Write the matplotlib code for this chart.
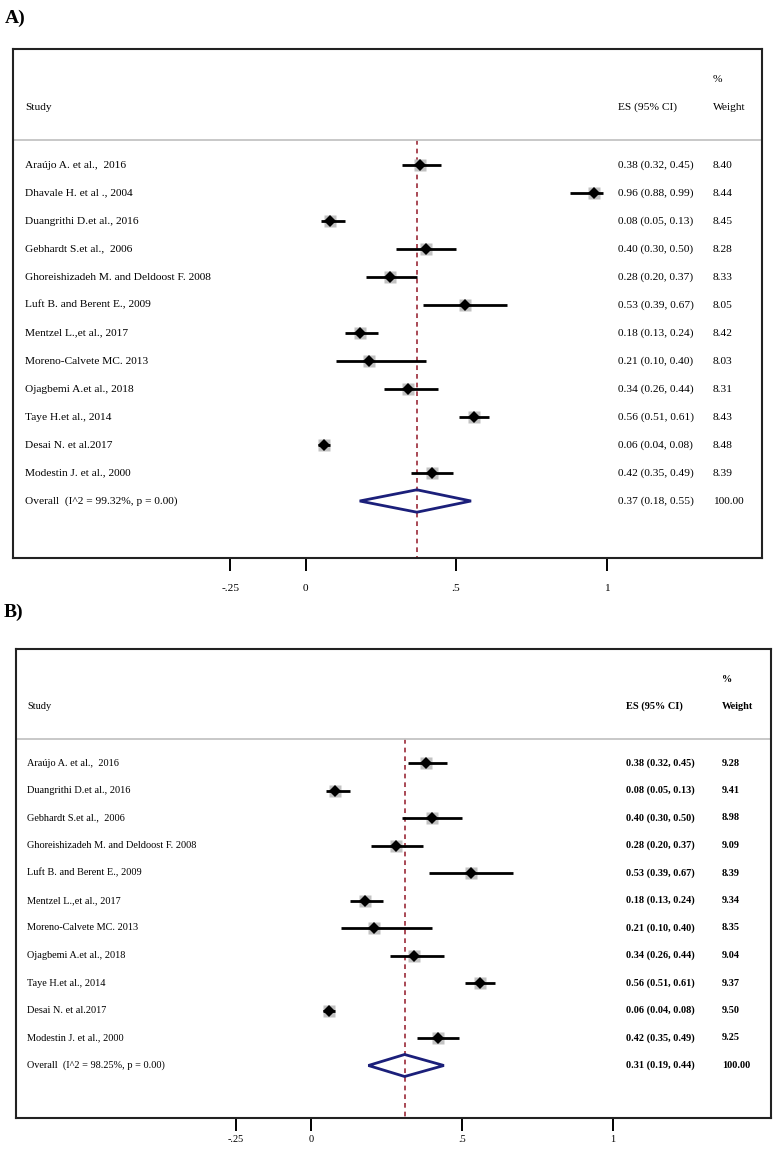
import matplotlib
matplotlib.use('Agg')
import matplotlib.pyplot as plt
from matplotlib.patches import Polygon

# ---- data: panel A ----
studies_a = ["Araújo A. et al.,  2016", "Dhavale H. et al ., 2004", "Duangrithi D.et al., 2016",
             "Gebhardt S.et al.,  2006", "Ghoreishizadeh M. and Deldoost F. 2008",
             "Luft B. and Berent E., 2009", "Mentzel L.,et al., 2017", "Moreno-Calvete MC. 2013",
             "Ojagbemi A.et al., 2018", "Taye H.et al., 2014", "Desai N. et al.2017",
             "Modestin J. et al., 2000"]
es_a = [0.38, 0.96, 0.08, 0.40, 0.28, 0.53, 0.18, 0.21, 0.34, 0.56, 0.06, 0.42]
lo_a = [0.32, 0.88, 0.05, 0.30, 0.20, 0.39, 0.13, 0.10, 0.26, 0.51, 0.04, 0.35]
hi_a = [0.45, 0.99, 0.13, 0.50, 0.37, 0.67, 0.24, 0.40, 0.44, 0.61, 0.08, 0.49]
wt_a = [8.40, 8.44, 8.45, 8.28, 8.33, 8.05, 8.42, 8.03, 8.31, 8.43, 8.48, 8.39]
overall_a = (0.37, 0.18, 0.55)
i2_a = "99.32%"

# ---- data: panel B (Dhavale excluded) ----
studies_b = ["Araújo A. et al.,  2016", "Duangrithi D.et al., 2016", "Gebhardt S.et al.,  2006",
             "Ghoreishizadeh M. and Deldoost F. 2008", "Luft B. and Berent E., 2009",
             "Mentzel L.,et al., 2017", "Moreno-Calvete MC. 2013", "Ojagbemi A.et al., 2018",
             "Taye H.et al., 2014", "Desai N. et al.2017", "Modestin J. et al., 2000"]
es_b = [0.38, 0.08, 0.40, 0.28, 0.53, 0.18, 0.21, 0.34, 0.56, 0.06, 0.42]
lo_b = [0.32, 0.05, 0.30, 0.20, 0.39, 0.13, 0.10, 0.26, 0.51, 0.04, 0.35]
hi_b = [0.45, 0.13, 0.50, 0.37, 0.67, 0.24, 0.40, 0.44, 0.61, 0.08, 0.49]
wt_b = [9.28, 9.41, 8.98, 9.09, 8.39, 9.34, 8.35, 9.04, 9.37, 9.50, 9.25]
overall_b = (0.31, 0.19, 0.44)
i2_b = "98.25%"

tick_vals = [-0.25, 0, 0.5, 1]
tick_labels = ["-.25", "0", ".5", "1"]

FONT = "Liberation Serif"
W, H = 775, 1149
fig = plt.figure(figsize=(W / 100, H / 100), dpi=100)


def draw_panel(ax, studies, es, lo, hi, wt, overall, i2, xlim, ylim, cols, fs, bold_vals, pad, sq):
    n = len(studies)
    ax.set_xlim(*xlim)
    ax.set_ylim(*ylim)  # inverted: top row first
    head_y = -0.88
    # reference line through overall estimate
    ax.vlines(overall[0], head_y, ylim[0], colors="#a33a48", linestyles=(0, (2.6, 2.2)), lw=1.3, zorder=1)
    # header separator
    ax.axhline(head_y, color="#c4c4c4", lw=1.3, zorder=1)
    for i in range(n):
        ax.plot(es[i], i, marker="s", ms=sq * (wt[i] / 8.4) ** 0.5, color="#c2c2c2", mec="none", zorder=2)
        ax.plot([lo[i], hi[i]], [i, i], color="black", lw=2, solid_capstyle="butt", zorder=3)
        ax.plot(es[i], i, marker="D", ms=6.6, color="black", mew=0, zorder=4)
    # overall diamond
    e, l, h = overall
    dh = 0.4
    ax.add_patch(Polygon([(l, n), (e, n - dh), (h, n), (e, n + dh)], closed=True,
                         fill=False, edgecolor="#1b1f7a", lw=2, zorder=4))
    xs, xe, xw = cols
    vw = "bold" if bold_vals else "normal"
    for i in range(n):
        ax.text(xs, i, studies[i], fontsize=fs, family=FONT, va="center")
        ax.text(xe, i, f"{es[i]:.2f} ({lo[i]:.2f}, {hi[i]:.2f})", fontsize=fs, family=FONT,
                va="center", weight=vw)
        ax.text(xw, i, f"{wt[i]:.2f}", fontsize=fs, family=FONT, va="center", weight=vw)
    ax.text(xs, n, f"Overall  (I^2 = {i2}, p = 0.00)", fontsize=fs, family=FONT, va="center")
    ax.text(xe, n, f"{e:.2f} ({l:.2f}, {h:.2f})", fontsize=fs, family=FONT, va="center", weight=vw)
    ax.text(xw, n, "100.00", fontsize=fs, family=FONT, va="center", weight=vw)
    # header
    ax.text(xs, -2.05, "Study", fontsize=fs, family=FONT, va="center")
    ax.text(xe, -2.05, "ES (95% CI)", fontsize=fs, family=FONT, va="center", weight=vw)
    ax.text(xw, -2.05, "Weight", fontsize=fs, family=FONT, va="center", weight=vw)
    ax.text(xw, -3.05, "%", fontsize=fs, family=FONT, va="center", weight=vw)

    ax.set_yticks([])
    ax.set_xticks(tick_vals)
    ax.set_xticklabels(tick_labels, family=FONT, fontsize=fs)
    ax.tick_params(axis="x", direction="out", length=9.5, width=1.4, pad=pad, top=False)
    for s in ax.spines.values():
        s.set_linewidth(1.5)
        s.set_color("#222222")


def px_ax(x0, x1, y0, y1):
    return fig.add_axes([x0 / W, 1 - y1 / H, (x1 - x0) / W, (y1 - y0) / H])


# panel A: box 13..762 px, 49..558 px ; zero at 305.5 px, 301 px per unit ; rows at 165 + 28*i
axA = px_ax(13, 762, 49, 558)
draw_panel(axA, studies_a, es_a, lo_a, hi_a, wt_a, overall_a, i2_a,
           xlim=((13 - 305.5) / 301, (762 - 305.5) / 301),
           ylim=((558 - 165) / 28, (49 - 165) / 28),
           cols=((25 - 305.5) / 301, (618 - 305.5) / 301, (713 - 305.5) / 301),
           fs=8.2, bold_vals=False, pad=9, sq=8.8)

# panel B: box 16..771 px, 649..1118 px ; zero at 311 px, 302 px per unit ; rows at 763 + 27.5*i
axB = px_ax(16, 771, 649, 1118)
draw_panel(axB, studies_b, es_b, lo_b, hi_b, wt_b, overall_b, i2_b,
           xlim=((16 - 311) / 302, (771 - 311) / 302),
           ylim=((1118 - 763) / 27.5, (649 - 763) / 27.5),
           cols=((27 - 311) / 302, (626 - 311) / 302, (722 - 311) / 302),
           fs=7.4, bold_vals=True, pad=3, sq=8.5)

fig.text(5 / W, 1 - 18 / H, "A)", fontsize=14, weight="bold", family=FONT, va="center")
fig.text(4 / W, 1 - 612 / H, "B)", fontsize=14, weight="bold", family=FONT, va="center")

fig.savefig("out.png", dpi=100)
